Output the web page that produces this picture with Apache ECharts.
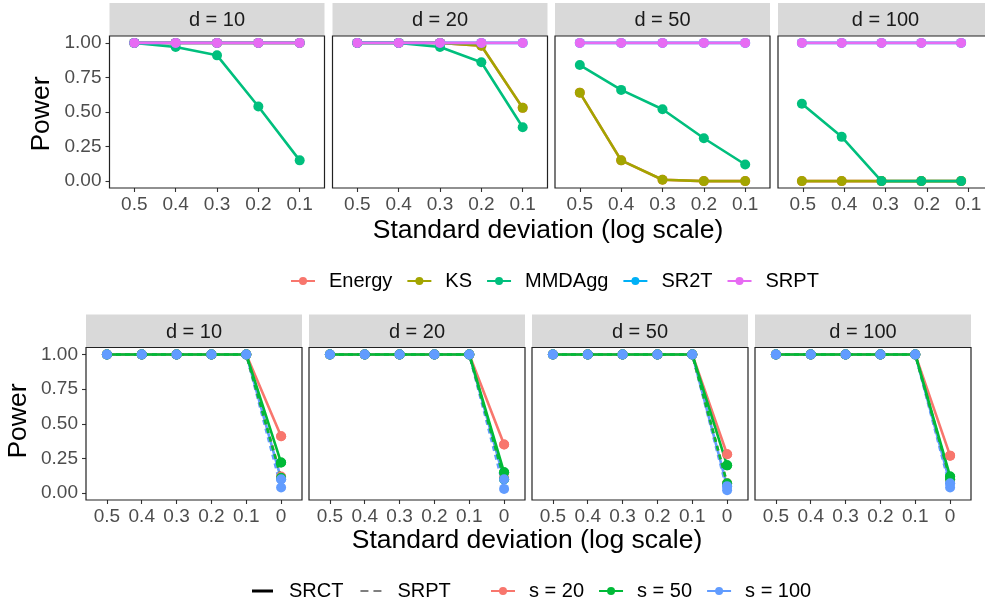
<!DOCTYPE html>
<html>
<head>
<meta charset="utf-8">
<script src="https://cdn.jsdelivr.net/npm/echarts@6/dist/echarts.min.js"></script>
<style>
  html, body { margin: 0; padding: 0; background: #fff; }
  #main { width: 985px; height: 607px; }
</style>
</head>
<body>
<div id="main"></div>
<script>
// facets
const dims = ['d = 10', 'd = 20', 'd = 50', 'd = 100'];

// top row: methods vs standard deviation
const sdTop = ['0.5', '0.4', '0.3', '0.2', '0.1'];
const methods = ['Energy', 'KS', 'MMDAgg', 'SR2T', 'SRPT'];
const methodColors = ['#F8766D', '#A3A500', '#00BF7D', '#00B0F6', '#E76BF3'];
const energy = [
  [1, 1, 1, 1, 1],
  [1, 1, 1, 0.98, 0.53],
  [0.64, 0.15, 0.01, 0, 0],
  [0, 0, 0, 0, 0]
];
const ks = [
  [1, 1, 1, 1, 1],
  [1, 1, 1, 0.98, 0.53],
  [0.64, 0.15, 0.01, 0, 0],
  [0, 0, 0, 0, 0]
];
const mmdagg = [
  [1, 0.97, 0.91, 0.54, 0.15],
  [1, 1, 0.97, 0.86, 0.39],
  [0.84, 0.66, 0.52, 0.31, 0.12],
  [0.56, 0.32, 0, 0, 0]
];
const sr2t = [
  [1, 1, 1, 1, 1],
  [1, 1, 1, 1, 1],
  [1, 1, 1, 1, 1],
  [1, 1, 1, 1, 1]
];
const srpt = [
  [1, 1, 1, 1, 1],
  [1, 1, 1, 1, 1],
  [1, 1, 1, 1, 1],
  [1, 1, 1, 1, 1]
];
const topValues = [energy, ks, mmdagg, sr2t, srpt];

// bottom row: s and test type
const sdBottom = ['0.5', '0.4', '0.3', '0.2', '0.1', '0'];
const sizes = ['s = 20', 's = 50', 's = 100'];
const sizeColors = ['#F8766D', '#00BA38', '#619CFF'];
const srctS20 = [[1, 1, 1, 1, 1, 0.41], [1, 1, 1, 1, 1, 0.35], [1, 1, 1, 1, 1, 0.28], [1, 1, 1, 1, 1, 0.27]];
const srctS50 = [[1, 1, 1, 1, 1, 0.22], [1, 1, 1, 1, 1, 0.15], [1, 1, 1, 1, 1, 0.2], [1, 1, 1, 1, 1, 0.12]];
const srctS100 = [[1, 1, 1, 1, 1, 0.1], [1, 1, 1, 1, 1, 0.1], [1, 1, 1, 1, 1, 0.05], [1, 1, 1, 1, 1, 0.07]];
const srptS20 = [[1, 1, 1, 1, 1, 0.12], [1, 1, 1, 1, 1, 0.11], [1, 1, 1, 1, 1, 0.07], [1, 1, 1, 1, 1, 0.1]];
const srptS50 = [[1, 1, 1, 1, 1, 0.11], [1, 1, 1, 1, 1, 0.1], [1, 1, 1, 1, 1, 0.07], [1, 1, 1, 1, 1, 0.1]];
const srptS100 = [[1, 1, 1, 1, 1, 0.04], [1, 1, 1, 1, 1, 0.03], [1, 1, 1, 1, 1, 0.02], [1, 1, 1, 1, 1, 0.04]];
const srctValues = [srctS20, srctS50, srctS100];
const srptValues = [srptS20, srptS50, srptS100];

const FONT = 'Liberation Sans, Arial, sans-serif';
const chart = echarts.init(document.getElementById('main'));

const topLefts = [109.5, 332.5, 555, 778];
const botLefts = [86, 309, 532, 755];
const grids = [], xAxes = [], yAxes = [], series = [], graphics = [];
const tickStyle = { color: '#333', width: 1.1 };

// a ggplot-like panel: x padded by 0.6 category units, y by 5%.
// grid A (full width) carries the data and the y axis, grid B (full height) carries the x ticks.
function addFacet(left, top, width, height, cats, showY, title, stripTop) {
  const padX = width * 0.6 / (cats.length - 1 + 1.2);
  const padY = height * 0.05 / 1.1;
  const a = grids.length;
  grids.push({ left: left, top: top + padY, width: width, height: height - 2 * padY });
  xAxes.push({ type: 'value', gridIndex: a, min: -0.6, max: cats.length - 0.4, show: false,
    axisLine: { onZero: false } });
  yAxes.push({
    type: 'value', gridIndex: a, min: 0, max: 1, interval: 0.25,
    axisLine: { show: false, onZero: false }, splitLine: { show: false },
    axisTick: { show: showY, length: 4, lineStyle: tickStyle },
    axisLabel: { show: showY, formatter: v => v.toFixed(2),
      color: '#4D4D4D', fontSize: 19, fontFamily: FONT, margin: 8 }
  });
  const b = grids.length;
  grids.push({ left: left + padX, top: top, width: width - 2 * padX, height: height });
  xAxes.push({
    type: 'value', gridIndex: b, min: 0, max: cats.length - 1, interval: 1,
    axisLine: { show: false, onZero: false }, splitLine: { show: false },
    axisTick: { show: true, length: 4, lineStyle: tickStyle },
    axisLabel: { formatter: v => cats[Math.round(v)], showMinLabel: true, showMaxLabel: true,
      color: '#4D4D4D', fontSize: 19, fontFamily: FONT, margin: 7 }
  });
  yAxes.push({ type: 'value', gridIndex: b, min: 0, max: 1, show: false, axisLine: { onZero: false } });

  graphics.push({ type: 'rect', z: 100, silent: true,
    shape: { x: left, y: top, width: width, height: height },
    style: { fill: 'none', stroke: '#222', lineWidth: 1.2 } });
  graphics.push({ type: 'rect', shape: { x: left, y: stripTop, width: width, height: top - stripTop },
    style: { fill: '#D9D9D9' }, silent: true });
  graphics.push({ type: 'text', x: left + width / 2, y: stripTop + (top - stripTop) / 2 + 1,
    style: { text: title, fill: '#1A1A1A', font: '20px ' + FONT, align: 'center', verticalAlign: 'middle' } });
  return a;
}

const LW = 2.6, SYM = 10;

// top facets
dims.forEach((d, f) => {
  const g = addFacet(topLefts[f], 36, 215, 152, sdTop, f === 0, d, 3);
  methods.forEach((m, k) => {
    series.push({
      name: m, type: 'line', xAxisIndex: g, yAxisIndex: g, clip: false,
      data: topValues[k][f].map((v, i) => [i, v]),
      color: methodColors[k], symbol: 'circle', symbolSize: SYM,
      lineStyle: { width: LW }, itemStyle: { color: methodColors[k] }, z: 2 + k
    });
  });
});

// bottom facets: lines first (green on top), then points (blue on top)
const lineZ = [3, 4, 2];
let firstBottom = -1;
dims.forEach((d, f) => {
  const g = addFacet(botLefts[f], 347.5, 216, 152.5, sdBottom, f === 0, d, 314.5);
  if (firstBottom < 0) firstBottom = g;
  sizes.forEach((s, k) => {
    series.push({
      name: s, type: 'line', xAxisIndex: g, yAxisIndex: g, clip: false,
      data: srctValues[k][f].map((v, i) => [i, v]),
      color: sizeColors[k], symbol: 'circle', symbolSize: SYM, showSymbol: true,
      lineStyle: { width: LW, type: 'solid' }, itemStyle: { color: sizeColors[k] }, z: lineZ[k]
    });
    series.push({
      name: s, type: 'line', xAxisIndex: g, yAxisIndex: g, clip: false,
      data: srptValues[k][f].map((v, i) => [i, v]),
      color: sizeColors[k], symbol: 'none',
      lineStyle: { width: LW, type: [5, 4] }, z: lineZ[k]
    });
  });
  sizes.forEach((s, k) => {
    series.push({
      name: s, type: 'scatter', xAxisIndex: g, yAxisIndex: g, clip: false,
      data: srctValues[k][f].map((v, i) => [i, v]).concat(srptValues[k][f].map((v, i) => [i, v])),
      symbol: 'circle', symbolSize: SYM, itemStyle: { color: sizeColors[k], opacity: 1 }, z: 10 + k
    });
  });
});

// linetype legend entries
series.push({ name: 'SRCT', type: 'line', xAxisIndex: firstBottom, yAxisIndex: firstBottom, data: [],
  color: '#000', symbol: 'none', lineStyle: { width: LW, type: 'solid' } });
series.push({ name: 'SRPT ', type: 'line', xAxisIndex: firstBottom, yAxisIndex: firstBottom, data: [],
  color: '#000', symbol: 'none', lineStyle: { width: LW, type: [5, 4] } });

// axis titles
const titleFont = '26.5px ' + FONT;
graphics.push({ type: 'text', x: 548, y: 231,
  style: { text: 'Standard deviation (log scale)', fill: '#000', font: titleFont, align: 'center', verticalAlign: 'middle' } });
graphics.push({ type: 'text', x: 527, y: 541,
  style: { text: 'Standard deviation (log scale)', fill: '#000', font: titleFont, align: 'center', verticalAlign: 'middle' } });
graphics.push({ type: 'text', x: 42, y: 114, rotation: Math.PI / 2,
  style: { text: 'Power', fill: '#000', font: titleFont, align: 'center', verticalAlign: 'middle' } });
graphics.push({ type: 'text', x: 18.5, y: 421, rotation: Math.PI / 2,
  style: { text: 'Power', fill: '#000', font: titleFont, align: 'center', verticalAlign: 'middle' } });

const legendText = { color: '#000', fontSize: 20, fontFamily: FONT, padding: [0, 0, 0, 9] };
const legendBase = { itemWidth: 24, itemHeight: 10, itemGap: 14, textStyle: legendText, selectedMode: false };
chart.setOption({
  animation: false,
  grid: grids, xAxis: xAxes, yAxis: yAxes, series: series,
  graphic: graphics,
  legend: [
    Object.assign({}, legendBase, { data: methods, top: 266, left: 285 }),
    Object.assign({}, legendBase, {
      data: [{ name: 'SRCT', icon: 'rect' },
             { name: 'SRPT ', icon: 'path://M0,0 L8,0 L8,1 L0,1 Z M13,0 L21,0 L21,1 L13,1 Z' }],
      itemWidth: 21, itemHeight: 3, top: 576, left: 247, formatter: n => n.trim(),
      textStyle: Object.assign({}, legendText, { padding: [0, 0, 0, 11] }), itemGap: 17 }),
    Object.assign({}, legendBase, { data: sizes, top: 576, left: 485 })
  ]
});
</script>
</body>
</html>
